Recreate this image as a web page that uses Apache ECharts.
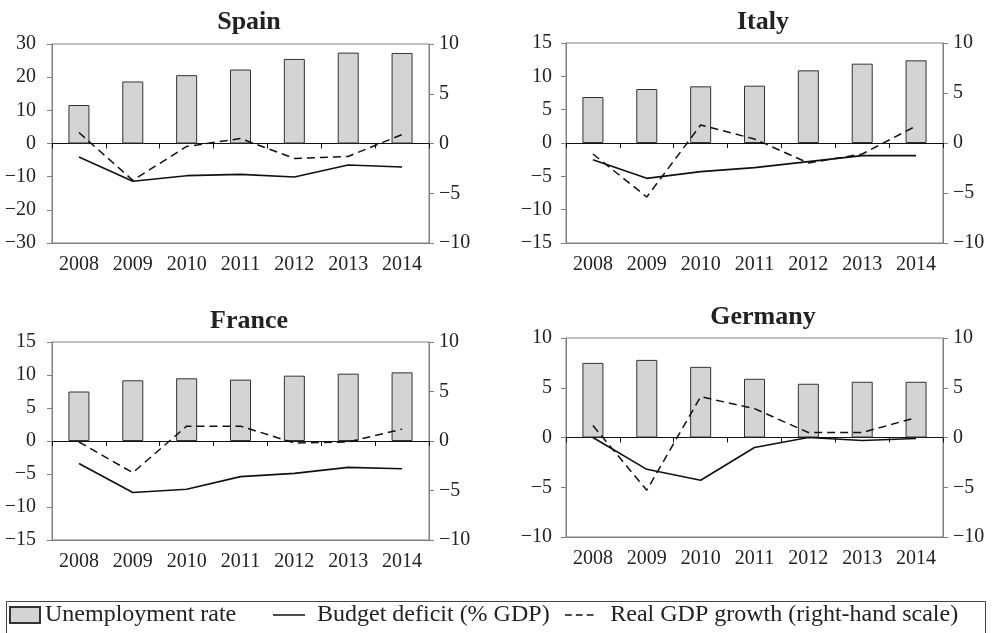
<!DOCTYPE html>
<html>
<head>
<meta charset="utf-8">
<script src="https://cdn.jsdelivr.net/npm/echarts@6/dist/echarts.min.js"></script>
<style>
  html, body { margin: 0; padding: 0; background: #fff; }
  #main { width: 996px; height: 633px; }
</style>
</head>
<body>
<div id="main"></div>
<script>
// 数据
var years = ["2008", "2009", "2010", "2011", "2012", "2013", "2014"];

var spainUnemp = [11.6, 18.7, 20.6, 22.3, 25.5, 27.4, 27.3];
var spainDeficit = [-4.1, -11.4, -9.7, -9.3, -10.1, -6.5, -7.1];
var spainGdp = [1.1, -3.7, -0.3, 0.5, -1.5, -1.3, 0.9];

var italyUnemp = [6.9, 8.1, 8.5, 8.6, 10.9, 11.9, 12.4];
var italyDeficit = [-2.5, -5.3, -4.3, -3.7, -2.8, -1.9, -1.9];
var italyGdp = [-1.1, -5.4, 1.8, 0.4, -2.0, -1.1, 1.7];

var franceUnemp = [7.5, 9.2, 9.5, 9.3, 9.9, 10.2, 10.4];
var franceDeficit = [-3.4, -7.8, -7.3, -5.4, -4.9, -4.0, -4.2];
var franceGdp = [-0.1, -3.2, 1.5, 1.5, -0.2, -0.1, 1.2];

var germanyUnemp = [7.5, 7.8, 7.1, 5.9, 5.4, 5.6, 5.6];
var germanyDeficit = [0.0, -3.2, -4.3, -1.0, 0.0, -0.3, -0.1];
var germanyGdp = [1.2, -5.3, 4.1, 2.9, 0.5, 0.5, 2.0];

var leftMax = [30, 15, 15, 10];
var leftStep = [10, 5, 5, 5];
var rightMax = 10;
var rightStep = 5;

var names = ["Unemployment rate", "Budget deficit (% GDP)", "Real GDP growth (right-hand scale)"];
var titles = ["Spain", "Italy", "France", "Germany"];

var chartDom = document.getElementById("main");
var myChart = echarts.init(chartDom);

var serif = "Liberation Serif";
var frame = "#808080";
var ink = "#222";

function minus(v) {
  return String(v).replace("-", "\u2212");
}

var panels = [
  { unemp: spainUnemp, deficit: spainDeficit, gdp: spainGdp, left: 52, top: 44, height: 199, lm: 16, tx: 244, ty: 4 },
  { unemp: italyUnemp, deficit: italyDeficit, gdp: italyGdp, left: 566, top: 43, height: 200, lm: 14, tx: 758, ty: 4 },
  { unemp: franceUnemp, deficit: franceDeficit, gdp: franceGdp, left: 52, top: 342, height: 198, lm: 16, tx: 244, ty: 303 },
  { unemp: germanyUnemp, deficit: germanyDeficit, gdp: germanyGdp, left: 566, top: 338, height: 199, lm: 14, tx: 758, ty: 299 },
];

var grid = [], xAxis = [], yAxis = [], series = [], title = [];

panels.forEach(function (p, i) {
  grid.push({
    left: p.left, top: p.top, width: 377, height: p.height,
    show: true, borderColor: frame, borderWidth: 1, containLabel: false,
  });
  title.push({
    text: titles[i], left: p.tx, top: p.ty, textAlign: "center",
    textStyle: { fontFamily: serif, fontSize: 26, fontWeight: "bold", color: ink },
  });
  // labels at the bottom
  xAxis.push({
    type: "category", gridIndex: i, data: years, position: "bottom",
    axisLine: { onZero: false, lineStyle: { color: frame } },
    axisTick: { show: false },
    axisLabel: { margin: 12, fontFamily: serif, fontSize: 20, color: ink },
  });
  // zero line with ticks
  xAxis.push({
    type: "category", gridIndex: i, data: years, position: "bottom",
    axisLine: { onZero: true, onZeroAxisIndex: i * 2, lineStyle: { color: "#111", width: 1 } },
    axisTick: { show: true, length: 5, lineStyle: { color: "#111" } },
    axisLabel: { show: false },
  });
  yAxis.push({
    type: "value", gridIndex: i, position: "left",
    min: -leftMax[i], max: leftMax[i], interval: leftStep[i],
    splitLine: { show: false },
    axisLine: { show: true, lineStyle: { color: frame } },
    axisTick: { show: true, length: 5, lineStyle: { color: frame } },
    axisLabel: { margin: p.lm, fontFamily: serif, fontSize: 20, color: ink, formatter: minus },
  });
  yAxis.push({
    type: "value", gridIndex: i, position: "right",
    min: -rightMax, max: rightMax, interval: rightStep,
    splitLine: { show: false },
    axisLine: { show: true, lineStyle: { color: frame } },
    axisTick: { show: true, length: 5, lineStyle: { color: frame } },
    axisLabel: { margin: 10, fontFamily: serif, fontSize: 20, color: ink, formatter: minus },
  });
  series.push({
    name: names[0], type: "bar", xAxisIndex: i * 2, yAxisIndex: i * 2,
    data: p.unemp, barWidth: 21,
    itemStyle: { color: "#d4d4d4", borderColor: "#333", borderWidth: 1 },
  });
  series.push({
    name: names[1], type: "line", xAxisIndex: i * 2, yAxisIndex: i * 2,
    data: p.deficit, symbol: "none", z: 5,
    lineStyle: { color: "#111", width: 1.6 }, itemStyle: { color: "#111" },
  });
  series.push({
    name: names[2], type: "line", xAxisIndex: i * 2, yAxisIndex: i * 2 + 1,
    data: p.gdp, symbol: "none", z: 5,
    lineStyle: { color: "#111", width: 1.5, type: [8, 5] }, itemStyle: { color: "#111" },
  });
});

var legendText = { fontFamily: serif, fontSize: 24, color: ink };
var dashIcon = "path://M0,0h9v2h-9z M14.5,0h9v2h-9z M29,0h9v2h-9z";

var option = {
  animation: false,
  backgroundColor: "#fff",
  title: title,
  grid: grid,
  xAxis: xAxis,
  yAxis: yAxis,
  series: series,
  legend: [
    { data: [{ name: names[0], icon: "rect" }], left: 9, top: 603, itemWidth: 30, itemHeight: 16, selectedMode: false, padding: 0, textStyle: legendText },
    { data: [{ name: names[1], icon: "rect" }], left: 273, top: 603, itemWidth: 32, itemHeight: 1.5, selectedMode: false, padding: 0, textStyle: Object.assign({ padding: [0, 0, 0, 7] }, legendText) },
    { data: [{ name: names[2], icon: dashIcon }], left: 565, top: 603, itemWidth: 38, itemHeight: 1.5, selectedMode: false, padding: 0, textStyle: Object.assign({ padding: [0, 0, 0, 7] }, legendText) },
  ],
  graphic: [
    {
      type: "rect", left: 4, top: 599, silent: true,
      shape: { x: 0, y: 0, width: 979, height: 32 },
      style: { fill: "none", stroke: "#444", lineWidth: 1 },
    },
  ],
};

option && myChart.setOption(option);
</script>
</body>
</html>
